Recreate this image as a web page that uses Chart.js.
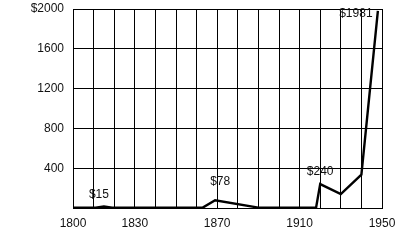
<!DOCTYPE html>
<html>
<head>
<meta charset="utf-8">
<script src="https://cdn.jsdelivr.net/npm/chart.js@4/dist/chart.umd.min.js"></script>
<style>
  html, body { margin: 0; padding: 0; background: #fff; }
  canvas { display: block; }
</style>
</head>
<body>
<canvas id="c" width="400" height="250"></canvas>
<script>
// Price over time, 1800-1950
const years  = [1800, 1811, 1815, 1819, 1863, 1869, 1890, 1918, 1920, 1930, 1940, 1948];
const values = [4, 4, 15, 4, 4, 78, 4, 4, 240, 140, 335, 1981];

// Points that carry a value label
const labeledIdx = [2, 5, 8, 11];

// Axis tick labels
const xTickLabels = [1800, 1830, 1870, 1910, 1950];
const yTickLabels = [400, 800, 1200, 1600, 2000];

const FONT = { family: '"Liberation Sans", Arial, sans-serif', size: 12 };
const INK = '#111';

// Offsets (px) of each value label from its point
const labelOffsets = { 2: [-5, -12], 5: [5, -19], 8: [0, -12], 11: [-22, 3] };

const valueLabels = {
  id: 'valueLabels',
  afterDatasetsDraw(chart) {
    const meta = chart.getDatasetMeta(0);
    const ctx = chart.ctx;
    ctx.save();
    ctx.font = FONT.size + 'px ' + FONT.family;
    ctx.fillStyle = INK;
    ctx.textAlign = 'center';
    ctx.textBaseline = 'middle';
    labeledIdx.forEach(i => {
      const p = meta.data[i];
      const [dx, dy] = labelOffsets[i];
      ctx.fillText('$' + values[i], p.x + dx, p.y + dy);
    });
    ctx.restore();
  }
};

new Chart(document.getElementById('c'), {
  type: 'line',
  data: {
    datasets: [{
      data: years.map((y, i) => ({ x: y, y: values[i] })),
      borderColor: '#000',
      borderWidth: 2.4,
      pointRadius: 0,
      tension: 0,
      fill: false
    }]
  },
  options: {
    responsive: false,
    animation: false,
    layout: { padding: { left: 0, right: 18, top: 9, bottom: 0 } },
    plugins: { legend: { display: false }, tooltip: { enabled: false } },
    scales: {
      x: {
        type: 'linear',
        min: 1800,
        max: 1950,
        afterFit(scale) {
          scale.height = 42;
          scale.paddingLeft = 0;
          scale.paddingRight = 0;
        },
        ticks: {
          stepSize: 10,
          autoSkip: false,
          maxRotation: 0,
          padding: 8,
          color: INK,
          font: FONT,
          callback: v => xTickLabels.includes(v) ? String(v) : ''
        },
        grid: { color: '#000', lineWidth: 1, drawTicks: false },
        border: { color: '#000', width: 1 }
      },
      y: {
        min: 0,
        max: 2000,
        afterFit(scale) {
          scale.width = 73;
          scale.paddingTop = 0;
          scale.paddingBottom = 0;
        },
        ticks: {
          stepSize: 400,
          padding: 9,
          color: INK,
          font: FONT,
          callback: v => yTickLabels.includes(v) ? (v === 2000 ? '$' + v : String(v)) : ''
        },
        grid: { color: '#000', lineWidth: 1, drawTicks: false },
        border: { color: '#000', width: 1 }
      }
    }
  },
  plugins: [valueLabels]
});
</script>
</body>
</html>
